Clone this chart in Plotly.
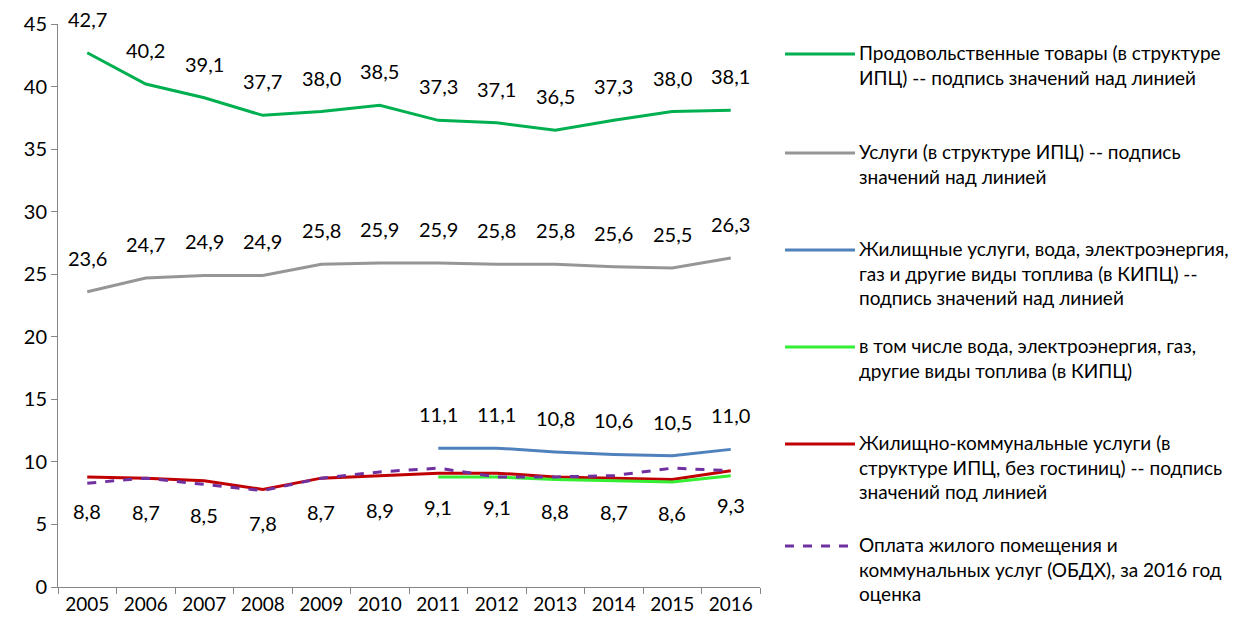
import plotly.graph_objects as go

years = ["2005", "2006", "2007", "2008", "2009", "2010", "2011", "2012", "2013", "2014", "2015", "2016"]
food = [42.7, 40.2, 39.1, 37.7, 38.0, 38.5, 37.3, 37.1, 36.5, 37.3, 38.0, 38.1]
services = [23.6, 24.7, 24.9, 24.9, 25.8, 25.9, 25.9, 25.8, 25.8, 25.6, 25.5, 26.3]
housing_kipc = [None, None, None, None, None, None, 11.1, 11.1, 10.8, 10.6, 10.5, 11.0]
utilities_kipc = [None, None, None, None, None, None, 8.8, 8.8, 8.6, 8.5, 8.4, 8.9]
housing_ipc = [8.8, 8.7, 8.5, 7.8, 8.7, 8.9, 9.1, 9.1, 8.8, 8.7, 8.6, 9.3]
obdx = [8.3, 8.7, 8.2, 7.7, 8.7, 9.2, 9.5, 8.8, 8.8, 8.9, 9.5, 9.3]

names = [
    "Продовольственные товары (в структуре<br>ИПЦ) -- подпись значений над линией",
    "Услуги (в структуре ИПЦ) -- подпись<br>значений над линией",
    "Жилищные услуги, вода, электроэнергия,<br>газ и другие виды топлива (в КИПЦ) --<br>подпись значений над линией",
    "в том числе вода, электроэнергия, газ,<br>другие виды топлива (в КИПЦ)",
    "Жилищно-коммунальные услуги (в<br>структуре ИПЦ, без гостиниц) -- подпись<br>значений под линией",
    "Оплата жилого помещения и<br>коммунальных услуг (ОБДХ), за 2016 год<br>оценка",
]
colors = ["#00B050", "#969696", "#4F81BD", "#33EE33", "#C00000", "#7030A0"]
dashes = ["solid", "solid", "solid", "solid", "solid", "dash"]
series = [food, services, housing_kipc, utilities_kipc, housing_ipc, obdx]
# label placement: +1 above, -1 below, 0 none
label_dir = [1, 1, 1, 0, -1, 0]
# drawing order (bottom to top)
draw_order = [0, 1, 2, 4, 3, 5]

FONT = "Lato, 'Open Sans', sans-serif"

fig = go.Figure()
for k in draw_order:
    fig.add_trace(go.Scatter(x=years, y=series[k], mode="lines",
                             line=dict(color=colors[k], width=3, dash=dashes[k]),
                             connectgaps=False, showlegend=False))

annotations = []
for s, ld in zip(series, label_dir):
    if ld == 0:
        continue
    for i, v in enumerate(s):
        if v is None:
            continue
        annotations.append(dict(x=i, y=v, xref="x", yref="y",
                                text=f"{v:.1f}".replace(".", ","),
                                showarrow=False, yshift=34 * ld,
                                font=dict(size=20, color="#000000", family=FONT)))

# manual legend (pixel positions relative to the plot area 58..760 x 24..587)
legend_y = [54, 153, 250, 347, 444, 546]
shapes = []
for name, c, d, ly in zip(names, colors, dashes, legend_y):
    shapes.append(dict(type="line", xref="paper", yref="paper",
                       x0=(785 - 58) / 702, x1=(855 - 58) / 702,
                       y0=(587 - ly) / 563, y1=(587 - ly) / 563,
                       line=dict(color=c, width=3, dash="dash" if d == "dash" else "solid")))
    annotations.append(dict(x=(857 - 58) / 702, y=(587 - ly + 15) / 563,
                            xref="paper", yref="paper", xanchor="left", yanchor="top",
                            align="left", showarrow=False, text=name,
                            font=dict(size=19, color="#000000", family=FONT)))

fig.update_layout(
    width=1242, height=623,
    margin=dict(l=50, r=490, t=16, b=44, autoexpand=False),
    paper_bgcolor="white", plot_bgcolor="white",
    annotations=annotations, shapes=shapes,
    font=dict(family=FONT, size=18, color="#000000"),
)
fig.update_xaxes(type="category", categoryorder="array", categoryarray=years,
                 range=[-0.5, 11.5], tickson="boundaries", ticks="outside", ticklen=6,
                 tickcolor="#868686", showline=True, linecolor="#868686", linewidth=1,
                 showgrid=False, tickfont=dict(size=19, color="#000000"), zeroline=False,
                 tickangle=0, automargin=False)
fig.update_yaxes(range=[0, 45], dtick=5, ticks="outside", ticklen=6, tickcolor="#868686",
                 showline=True, linecolor="#868686", linewidth=1, showgrid=False,
                 zeroline=False, tickfont=dict(size=20, color="#000000"), automargin=False)

fig.write_html("out.html")
